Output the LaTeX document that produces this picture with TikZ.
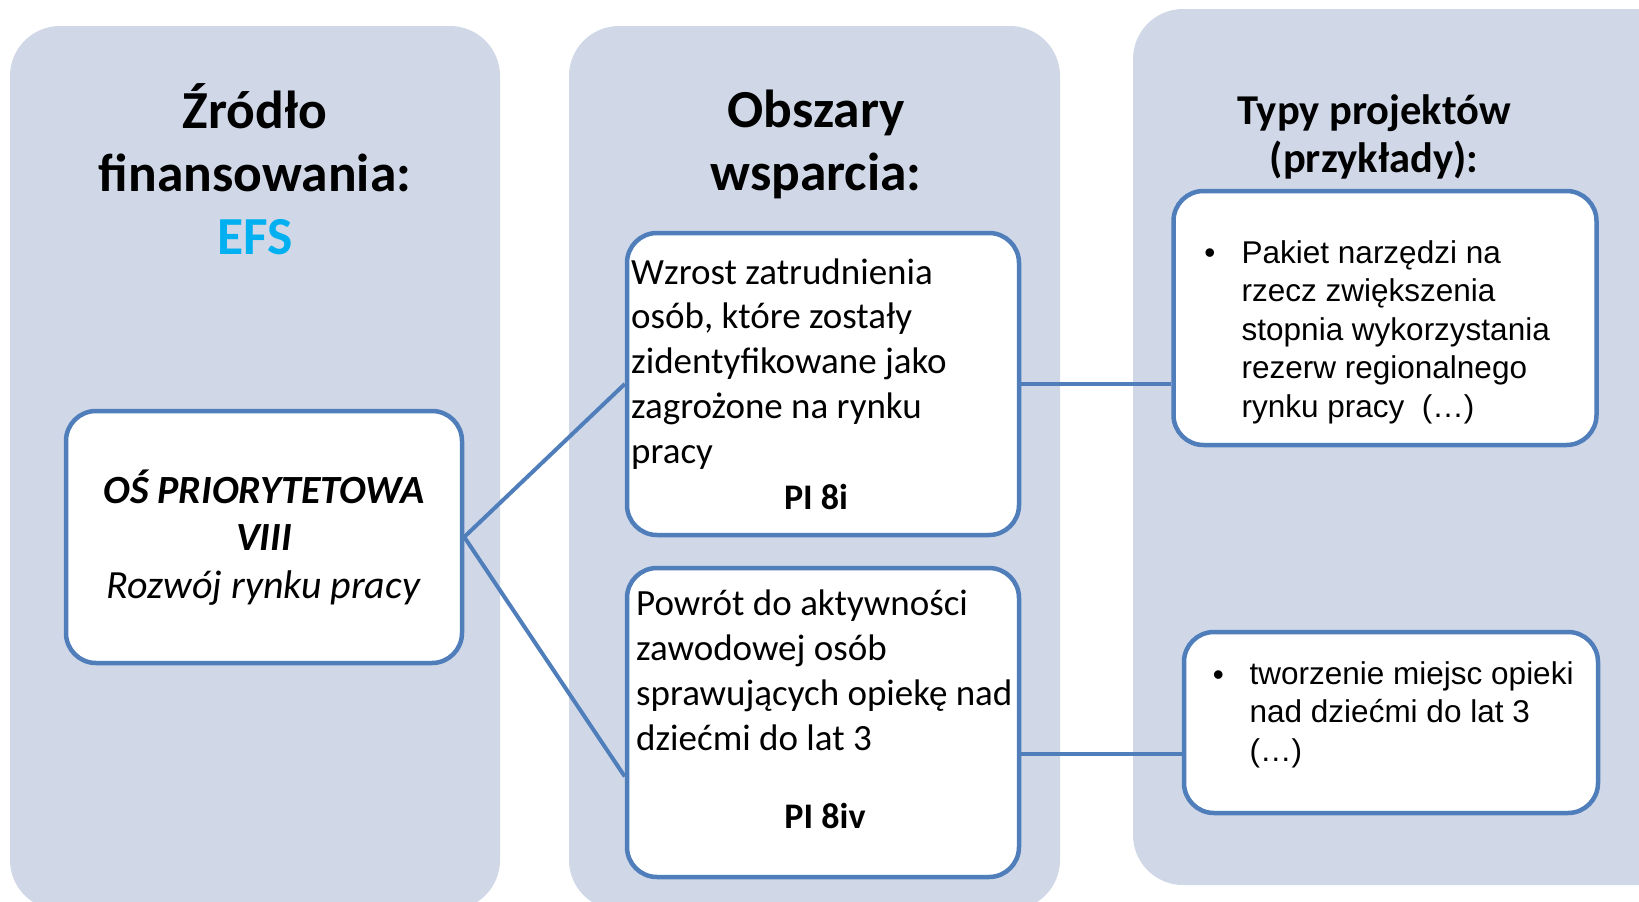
\documentclass[tikz,border=0pt]{standalone}
\usepackage{fontspec}
\setmainfont{Carlito}
\newfontfamily\arialfont{Liberation Sans}
\usetikzlibrary{positioning}
\definecolor{panelfill}{HTML}{D0D8E8}
\definecolor{boxline}{HTML}{4F7EBB}
\definecolor{efsblue}{HTML}{00B0F0}
\tikzset{
  panel/.style={fill=panelfill, rounded corners=50pt},
  itembox/.style={draw=boxline, line width=4.5pt, fill=white, rounded corners=30pt, inner sep=0pt},
  link/.style={draw=boxline, line width=4pt},
  coltitle/.style={font=\fontsize{53.5}{63}\selectfont\bfseries, align=center, inner sep=0pt},
  subtitle/.style={font=\fontsize{42.5}{48}\selectfont\bfseries, align=center, inner sep=0pt},
  bodytxt/.style={font=\fontsize{37}{44.7}\selectfont, align=left, inner sep=0pt},
  pilabel/.style={font=\fontsize{36}{44}\selectfont\bfseries, inner sep=0pt},
  listtxt/.style={font=\arialfont\fontsize{31.5}{38.5}\selectfont, align=left, inner sep=0pt},
}

\begin{document}
\begin{tikzpicture}[x=1pt,y=-1pt]
\useasboundingbox (0,0) rectangle (1639,902);
\clip (0,0) rectangle (1639,902);
% three columns
\fill[panel] (10,26) rectangle (500,910);
\fill[panel] (569,26) rectangle (1060,910);
\fill[panel] (1133,9) rectangle (1720,885);

% column titles (placed by last baseline)
\node[coltitle, anchor=base] (srcttl) at (255,254) {Źródło\\finansowania:\\\textcolor{efsblue}{EFS}};
\node[coltitle, anchor=base] (areattl) at (816,190) {Obszary\\wsparcia:};
\node[subtitle, anchor=base] (typettl) at (1374,172) {Typy projektów\\(przykłady):};

% boxes
\node[itembox, minimum width=396pt, minimum height=252pt] (osbox) at (264,537) {};
\node[itembox, minimum width=392pt, minimum height=302pt] (boxA) at (823,384) {};
\node[itembox, minimum width=392pt, minimum height=309pt] (boxB) at (823,722.5) {};
\node[itembox, minimum width=423pt, minimum height=254pt] (boxC) at (1385,318) {};
\node[itembox, minimum width=414pt, minimum height=181pt] (boxD) at (1391,722.5) {};

% texts
\node[font=\fontsize{40}{47.5}\selectfont, align=center, inner sep=0pt, anchor=base] (ostxt) at (264,598)
  {\textbf{\textit{OŚ PRIORYTETOWA}}\\\textbf{\textit{VIII}}\\\textit{Rozwój rynku pracy}};
\node[bodytxt, anchor=base west] (txtA) at (631,463)
  {Wzrost zatrudnienia\\osób, które zostały\\zidentyfikowane jako\\zagrożone na rynku\\pracy};
\node[pilabel, anchor=base] (piA) at (816,509) {PI 8i};
\node[bodytxt, anchor=base west] (txtB) at (636,750)
  {Powrót do aktywności\\zawodowej osób\\sprawujących opiekę nad\\dziećmi do lat 3};
\node[pilabel, anchor=base] (piB) at (825,828) {PI 8iv};
\node[listtxt, anchor=base] (dotC) at (1210,263) {•};
\node[listtxt, anchor=base west] (txtC) at (1241.5,417)
  {Pakiet narzędzi na\\rzecz zwiększenia\\stopnia wykorzystania\\rezerw regionalnego\\rynku pracy\ \ (…)};
\node[listtxt, anchor=base] (dotD) at (1218.5,685) {•};
\node[listtxt, anchor=base west] (txtD) at (1249.5,761)
  {tworzenie miejsc opieki\\nad dziećmi do lat 3\\(…)};

% connectors
\draw[link] (osbox.east) -- (boxA.west);
\draw[link] (osbox.east) -- ([yshift=-54pt]boxB.west);
\draw[link] (boxA.east) -- (boxA.east -| boxC.west);
\draw[link] ([yshift=-31pt]boxB.east) -- ([yshift=-31pt]boxD.west);
\end{tikzpicture}
\end{document}
